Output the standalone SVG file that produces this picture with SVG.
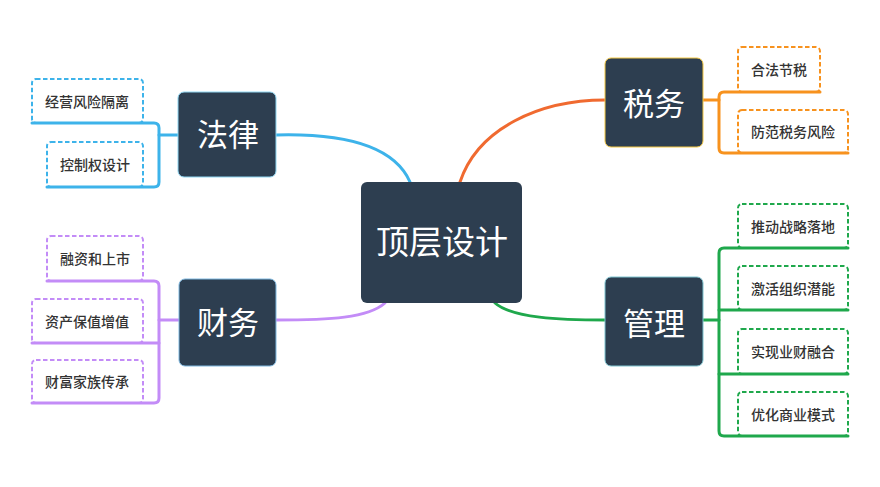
<svg xmlns="http://www.w3.org/2000/svg" width="880" height="487" viewBox="0 0 880 487">
<style>
.node rect{fill:#2d3e50;}
.node text{fill:#ffffff;font-family:"Noto Sans CJK SC","Noto Sans",sans-serif;text-anchor:middle;dominant-baseline:central;font-weight:400;}
.main text{font-size:31px;}
.center text{font-size:33px;}
.leaf rect{fill:#ffffff;stroke-width:2;stroke-dasharray:4.5 2.5;}
.leaf text{fill:#333333;font-family:"Noto Sans CJK SC","Noto Sans",sans-serif;font-size:14px;font-weight:500;text-anchor:middle;dominant-baseline:central;}
.c{fill:none;stroke-width:3;stroke-linecap:round;stroke-linejoin:round;}
.blue{stroke:#3db3ea;}
.orange{stroke:#f7921e;}
.purple{stroke:#c38cf7;}
.green{stroke:#1fa84c;}
</style>
<rect width="880" height="487" fill="#ffffff"/>

<g id="leaves">
<g id="leaf-jingying" class="leaf"><rect x="32" y="79" width="111" height="44" rx="4" stroke="#3db3ea"/><text x="87" y="101">经营风险隔离</text></g>
<g id="leaf-kongzhi" class="leaf"><rect x="47" y="142" width="96" height="45" rx="4" stroke="#3db3ea"/><text x="95" y="164">控制权设计</text></g>
<g id="leaf-rongzi" class="leaf"><rect x="47" y="236" width="96" height="45" rx="4" stroke="#c38cf7"/><text x="95" y="258">融资和上市</text></g>
<g id="leaf-zichan" class="leaf"><rect x="32" y="299" width="111" height="44" rx="4" stroke="#c38cf7"/><text x="87" y="321">资产保值增值</text></g>
<g id="leaf-caifu" class="leaf"><rect x="32" y="360" width="111" height="43" rx="4" stroke="#c38cf7"/><text x="87" y="381">财富家族传承</text></g>
<g id="leaf-hefa" class="leaf"><rect x="738" y="47" width="82" height="45" rx="4" stroke="#f7921e"/><text x="779" y="69">合法节税</text></g>
<g id="leaf-fangfan" class="leaf"><rect x="738" y="110" width="110" height="43" rx="4" stroke="#f7921e"/><text x="793" y="131">防范税务风险</text></g>
<g id="leaf-tuidong" class="leaf"><rect x="738" y="204" width="110" height="44" rx="4" stroke="#1fa84c"/><text x="793" y="226">推动战略落地</text></g>
<g id="leaf-jihuo" class="leaf"><rect x="738" y="266" width="110" height="44" rx="4" stroke="#1fa84c"/><text x="793" y="288">激活组织潜能</text></g>
<g id="leaf-shixian" class="leaf"><rect x="738" y="329" width="110" height="45" rx="4" stroke="#1fa84c"/><text x="793" y="351">实现业财融合</text></g>
<g id="leaf-youhua" class="leaf"><rect x="738" y="392" width="110" height="44" rx="4" stroke="#1fa84c"/><text x="793" y="414">优化商业模式</text></g>
</g>

<g id="connectors">
<path class="c blue" d="M276,135 C350,133 395,148 410,182"/>
<path class="c orange" style="stroke:#f06a30" d="M605,100 C540,100 478,128 460,182"/>
<path class="c purple" d="M276,320 C330,320 368,318 385,303"/>
<path class="c green" d="M605,320 C560,320 512,318 495,303"/>

<path class="c blue" d="M32,123 H154 Q159,123 159,128 V182 Q159,187 154,187 H47"/>
<path class="c blue" d="M159,135 H178"/>
<path class="c purple" d="M47,281 H154 Q159,281 159,286 V398 Q159,403 154,403 H32"/>
<path class="c purple" d="M32,343 H159"/>
<path class="c purple" d="M159,320 H179"/>
<path class="c orange" d="M820,92 H724 Q719,92 719,97 V148 Q719,153 724,153 H848"/>
<path class="c orange" d="M703,100 H719"/>
<path class="c green" d="M848,248 H724 Q719,248 719,253 V431 Q719,436 724,436 H848"/>
<path class="c green" d="M719,310 H848"/>
<path class="c green" d="M719,374 H848"/>
<path class="c green" d="M703,320 H719"/>
</g>

<g id="node-center" class="node center"><rect x="361" y="182" width="161" height="121" rx="6"/><text x="442" y="240">顶层设计</text></g>
<g id="node-falv" class="node main"><rect x="178" y="92" width="98" height="85" rx="6" stroke="#8fd6f2" stroke-width="1"/><text x="228" y="132">法律</text></g>
<g id="node-caiwu" class="node main"><rect x="179" y="279" width="97" height="87" rx="6" stroke="#7fb8e0" stroke-width="1"/><text x="228" y="320">财务</text></g>
<g id="node-shuiwu" class="node main"><rect x="605" y="58" width="98" height="89" rx="6" stroke="#f5c842" stroke-width="1"/><text x="654" y="101">税务</text></g>
<g id="node-guanli" class="node main"><rect x="605" y="277" width="98" height="89" rx="6" stroke="#7fc4d0" stroke-width="1"/><text x="654" y="321">管理</text></g>
</svg>
